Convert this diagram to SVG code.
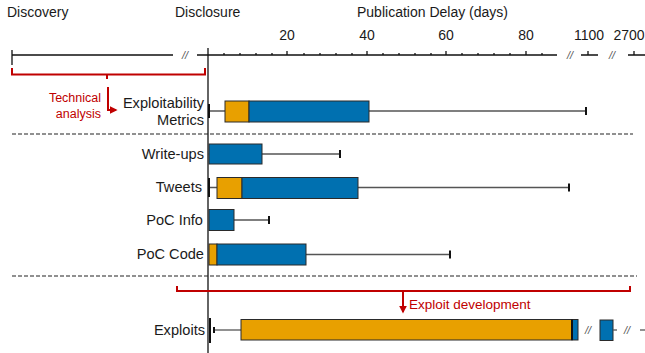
<svg xmlns="http://www.w3.org/2000/svg" width="645" height="353" viewBox="0 0 645 353">
  <style>
    text { font-family: "Liberation Sans", Arial, sans-serif; fill: #1a1a1a; }
    .hd { font-size: 14px; }
    .lbl { font-size: 14.6px; }
    .tick { font-size: 14px; text-anchor: middle; }
    .red { fill: #c00000; font-size: 12.5px; }
    .ax { stroke: #111; stroke-width: 1.3; fill: none; }
    .brk { stroke: #c00000; stroke-width: 2; fill: none; }
    .dash { stroke: #222; stroke-width: 1.2; stroke-dasharray: 4 2; }
    .wh { stroke: #555; stroke-width: 1.3; }
    .cap { stroke: #111; stroke-width: 2; }
    .or { fill: #e8a000; stroke: #2a2a2a; stroke-width: 1; }
    .bl { fill: #0070b0; stroke: #2a2a2a; stroke-width: 1; }
    .sl { font-size: 11px; fill: #555; font-style: italic; }
  </style>
  <defs>
    <marker id="ah" viewBox="0 0 10 10" refX="8" refY="5" markerWidth="4" markerHeight="4" orient="auto">
      <path d="M0,0 L10,5 L0,10 z" fill="#c00000"/>
    </marker>
  </defs>

  <!-- headings -->
  <text class="hd" x="7" y="17">Discovery</text>
  <text class="hd" x="175" y="17">Disclosure</text>
  <text class="hd" x="357" y="17">Publication Delay (days)</text>
  <text class="tick" x="287" y="40">20</text>
  <text class="tick" x="367" y="40">40</text>
  <text class="tick" x="446" y="40">60</text>
  <text class="tick" x="526" y="40">80</text>
  <text class="tick" x="589" y="40">1100</text>
  <text class="tick" x="629" y="40">2700</text>

  <!-- axis -->
  <g id="axis">
    <path class="ax" d="M12,55 H173 M197,55 H557 M12,50 V65"/>
    <path class="ax" d="M208,48 V353"/>
    <path class="ax" d="M224,53 V55 M240,53 V55 M256,53 V55 M272,53 V55 M304,53 V55 M320,53 V55 M336,53 V55 M352,53 V55 M383,53 V55 M399,53 V55 M415,53 V55 M431,53 V55 M462,53 V55 M478,53 V55 M494,53 V55 M510,53 V55 M542,53 V55"/>
    <path class="ax" d="M287,51 V55 M367,51 V55 M446,51 V55 M526,51 V55"/>
    <path class="ax" d="M581,55 H598 M588,51 V55 M628,55 H645 M634,51 V55"/>
    <text class="sl" x="185" y="59" text-anchor="middle">//</text>
    <text class="sl" x="570" y="59" text-anchor="middle">//</text>
    <text class="sl" x="612" y="59" text-anchor="middle">//</text>
  </g>

  <!-- section separators -->
  <line class="dash" x1="12" y1="134" x2="633" y2="134"/>
  <line class="dash" x1="12" y1="276" x2="637" y2="276"/>

  <!-- annotations -->
  <g id="technical-analysis">
    <path class="brk" d="M12,68 V74.5 H205 V68 M107,74.5 V79"/>
    <path class="brk" d="M108,87 V110 H116" marker-end="url(#ah)"/>
    <text class="red" x="101" y="102" text-anchor="end">Technical</text>
    <text class="red" x="101" y="118" text-anchor="end">analysis</text>
  </g>
  <g id="exploit-development">
    <path class="brk" d="M177,286 V291 H630 V286"/>
    <path class="brk" d="M403,291 V312" marker-end="url(#ah)"/>
    <text class="red" x="409" y="309" style="font-size:13.5px">Exploit development</text>
  </g>

  <!-- rows -->
  <g id="metrics">
    <text class="lbl" x="204" y="108" text-anchor="end">Exploitability</text>
    <text class="lbl" x="204" y="125" text-anchor="end">Metrics</text>
    <line class="wh" x1="208" y1="111" x2="586" y2="111"/>
    <line class="cap" x1="586" y1="107" x2="586" y2="115"/>
    <line class="cap" x1="209" y1="104" x2="209" y2="118"/>
    <rect class="or" x="225" y="101" width="24" height="21"/>
    <rect class="bl" x="249" y="101" width="120" height="21"/>
  </g>

  <g id="writeups">
    <text class="lbl" x="204" y="159" text-anchor="end">Write-ups</text>
    <line class="wh" x1="208" y1="154" x2="340" y2="154"/>
    <line class="cap" x1="340" y1="150" x2="340" y2="158"/>
    <rect class="bl" x="209" y="144" width="53" height="20"/>
  </g>

  <g id="tweets">
    <text class="lbl" x="202" y="192" text-anchor="end">Tweets</text>
    <line class="wh" x1="209" y1="187.5" x2="569" y2="187.5" stroke="#999"/>
    <line class="cap" x1="569" y1="183.5" x2="569" y2="191.5"/>
    <line class="cap" x1="209" y1="178" x2="209" y2="197"/>
    <rect class="or" x="217" y="177.5" width="25" height="21"/>
    <rect class="bl" x="242" y="177.5" width="116" height="21"/>
  </g>

  <g id="poc-info">
    <text class="lbl" x="203" y="225" text-anchor="end">PoC Info</text>
    <line class="wh" x1="209" y1="220" x2="269" y2="220"/>
    <line class="cap" x1="269" y1="216" x2="269" y2="224"/>
    <rect class="bl" x="209" y="209.5" width="25" height="21"/>
  </g>

  <g id="poc-code">
    <text class="lbl" x="204" y="259" text-anchor="end">PoC Code</text>
    <line class="wh" x1="209" y1="254.5" x2="450" y2="254.5"/>
    <line class="cap" x1="450" y1="250.5" x2="450" y2="258.5"/>
    <rect class="or" x="209" y="244" width="8" height="21"/>
    <rect class="bl" x="217" y="244" width="89" height="21"/>
  </g>

  <g id="exploits">
    <text class="lbl" x="205" y="335" text-anchor="end">Exploits</text>
    <line class="cap" x1="210" y1="318" x2="210" y2="343"/>
    <line class="wh" x1="214" y1="330" x2="241" y2="330"/>
    <line class="cap" x1="214" y1="327" x2="214" y2="333"/>
    <rect class="or" x="241" y="319.5" width="331" height="20.5"/>
    <rect class="bl" x="572" y="319.5" width="6" height="20.5"/>
    <line x1="572" y1="319.5" x2="572" y2="340" stroke="#111" stroke-width="2"/>
    <text class="sl" x="588" y="334" text-anchor="middle">//</text>
    <rect class="bl" x="600" y="320" width="13" height="20.5"/>
    <line class="wh" x1="613" y1="330" x2="617" y2="330"/>
    <text class="sl" x="627" y="334" text-anchor="middle">//</text>
    <line class="wh" x1="640" y1="330" x2="645" y2="330"/>
  </g>
</svg>
